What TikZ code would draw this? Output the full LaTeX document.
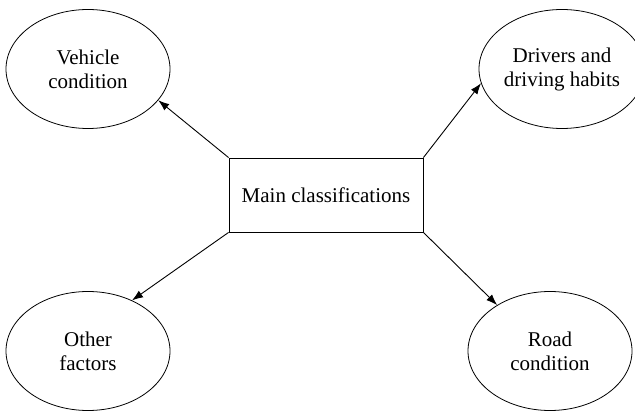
\documentclass[tikz,border=0pt]{standalone}
\usepackage{fontspec}
\setmainfont{Liberation Serif}
\usetikzlibrary{shapes.geometric,arrows.meta}
\begin{document}
\begin{tikzpicture}[x=1pt,y=-1pt,
  topic/.style={ellipse,draw,line width=0.8pt,inner sep=0pt,
    minimum width=164pt,minimum height=119pt,align=center,
    font=\fontsize{21}{24}\selectfont},
  hub/.style={rectangle,draw,line width=0.8pt,inner sep=0pt,
    minimum width=194pt,minimum height=74pt,
    font=\fontsize{21}{24}\selectfont},
  link/.style={line width=0.9pt,-{Latex[length=11pt,width=8pt]}}]
  \useasboundingbox (0,0) rectangle (635,411);
  \node[hub] (main) at (326,195) {Main classifications};
  \node[topic] (veh) at (88,69) {Vehicle\\condition};
  \node[topic,minimum width=166pt] (drv) at (562,69) {Drivers and\\driving habits};
  \node[topic] (oth) at (88,351) {Other\\factors};
  \node[topic] (road) at (550,351) {Road\\condition};
  \draw[link] (main.north west) -- (veh.-24);
  \draw[link] (main.north east) -- (drv.190);
  \draw[link] (main.south west) -- (oth.49);
  \draw[link] (main.south east) -- (road.139);
\end{tikzpicture}
\end{document}
